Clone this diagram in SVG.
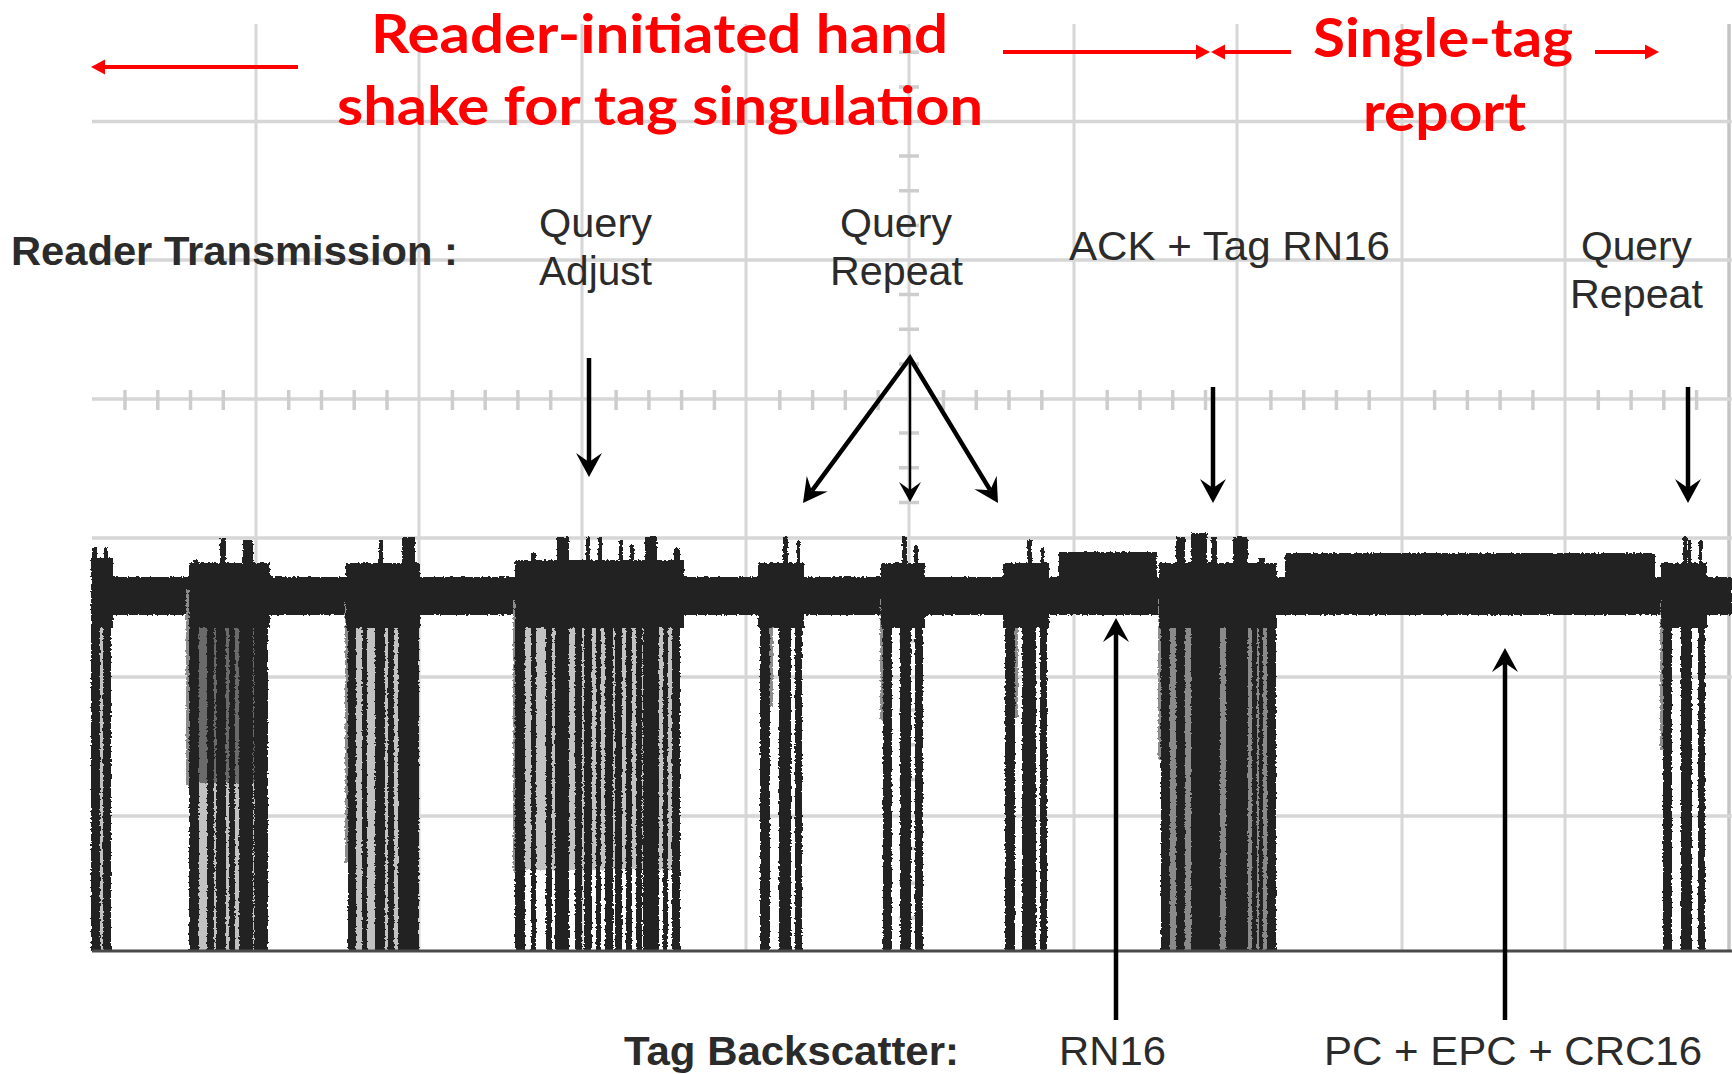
<svg xmlns="http://www.w3.org/2000/svg" width="1732" height="1074" viewBox="0 0 1732 1074">
  <defs>
    <style>
      .grid{stroke:#d6d6d6;stroke-width:3;fill:none}
      .gridh{stroke:#d6d6d6;stroke-width:3.5;fill:none}
      .tick{stroke:#cdcdcd;stroke-width:3.5;fill:none}
      .sig{fill:#242424}
      .gap{fill:#6a6a6a}
      .gapl{fill:#c2c2c2}
      .ghost{fill:#8c8c8c}
      .lbl{font-family:"Liberation Sans",Arial,sans-serif;font-size:41px;fill:#2b2b2b}
      .bold{font-weight:bold}
      .note{font-family:Lato,"Open Sans",sans-serif;font-weight:bold;font-size:53px;fill:#ff0000}
      .ptr{stroke:#000;stroke-width:4.5;fill:none;stroke-linejoin:miter}
      .ptr-thin{stroke:#000;stroke-width:2.5;fill:none}
      .span{stroke:#ff0000;stroke-width:4;fill:none}
    </style>
    <!-- slight edge roughness of a sampled scope trace -->
    <filter id="rough" x="-2%" y="-2%" width="104%" height="104%">
      <feTurbulence type="fractalNoise" baseFrequency="0.45" numOctaves="1" seed="3" result="n"/>
      <feDisplacementMap in="SourceGraphic" in2="n" scale="4" xChannelSelector="R" yChannelSelector="G"/>
    </filter>
    <marker id="head" markerUnits="userSpaceOnUse" viewBox="0 -14 26 28" markerWidth="26" markerHeight="28" refX="9" refY="0" orient="auto-start-reverse">
      <path d="M24,0 L0,-13 L9,0 L0,13 Z" fill="#000"/>
    </marker>
    <marker id="head-sm" markerUnits="userSpaceOnUse" viewBox="0 -12 22 24" markerWidth="22" markerHeight="24" refX="8" refY="0" orient="auto">
      <path d="M20,0 L0,-11 L8,0 L0,11 Z" fill="#000"/>
    </marker>
    <marker id="red-head" markerUnits="userSpaceOnUse" viewBox="0 -8 15 16" markerWidth="15" markerHeight="16" refX="2" refY="0" orient="auto">
      <path d="M14,0 L0,-7.5 L0,7.5 Z" fill="#ff0000"/>
    </marker>
  </defs>

  <rect width="1732" height="1074" fill="#ffffff"/>

  <!-- scope graticule -->
  <g id="grid">
    <path class="grid" d="M256,24V951 M419,24V951 M582,24V951 M746,24V951 M909,24V951 M1074,24V951 M1237,24V951 M1402,24V951 M1565,24V951"/>
    <path d="M1729,24V951" stroke="#c4c4c4" stroke-width="3.5"/>
    <path class="gridh" d="M92,121.5H1732 M92,260H1732 M92,399H1732 M92,538H1732 M92,677H1732 M92,816H1732"/>
    <!-- minor divisions on the centre axes -->
    <path class="tick" d="M125,390V410 M157.8,390V410 M190.5,390V410 M223.3,390V410 M288.7,390V410 M321.5,390V410 M354.2,390V410 M387,390V410 M452.4,390V410 M485.2,390V410 M517.9,390V410 M550.7,390V410 M616.1,390V410 M648.9,390V410 M681.6,390V410 M714.4,390V410 M779.8,390V410 M812.6,390V410 M845.3,390V410 M878.1,390V410 M943.5,390V410 M976.3,390V410 M1009,390V410 M1041.8,390V410 M1107.2,390V410 M1140,390V410 M1172.7,390V410 M1205.5,390V410 M1270.9,390V410 M1303.7,390V410 M1336.4,390V410 M1369.2,390V410 M1434.6,390V410 M1467.4,390V410 M1500.1,390V410 M1532.9,390V410 M1598.3,390V410 M1631.1,390V410 M1663.8,390V410 M1696.6,390V410"/>
    <path class="tick" d="M899,52.3H919 M899,86.9H919 M899,156.1H919 M899,190.8H919 M899,225.4H919 M899,294.6H919 M899,329.3H919 M899,363.9H919 M899,433.1H919 M899,467.8H919 M899,502.4H919 M899,571.6H919 M899,606.3H919 M899,640.9H919 M899,710.1H919 M899,744.8H919 M899,779.4H919 M899,848.6H919 M899,883.3H919 M899,917.9H919"/>
  </g>

  <!-- captured waveform -->
  <g id="trace">
    <g filter="url(#rough)">
    <!-- continuous carrier -->
    <rect class="sig" x="91" y="577" width="1641" height="38"/>

    <!-- burst at trace start -->
    <g id="burst-0">
      <rect class="gapl" x="100" y="628" width="3" height="323"/>
      <rect class="sig" x="91" y="558" width="22" height="70"/>
      <rect class="sig" x="92" y="547" width="5" height="15"/>
      <rect class="sig" x="104" y="548" width="4" height="15"/>
      <rect class="sig" x="91" y="563" width="9" height="388"/>
      <rect class="sig" x="103" y="563" width="8" height="388"/>
    </g>

    <g id="burst-1">
      <rect class="ghost" x="186" y="590" width="3" height="195"/>
      <rect class="gap" x="199" y="628" width="69" height="155"/>
      <rect class="gapl" x="199" y="783" width="69" height="168"/>
      <rect class="sig" x="189" y="563" width="81" height="65"/>
      <rect class="sig" x="193" y="560" width="6" height="5"/>
      <rect class="sig" x="220" y="538" width="6" height="27"/>
      <rect class="sig" x="243" y="540" width="10" height="25"/>
      <rect class="sig" x="189" y="563" width="10" height="388"/>
      <rect class="sig" x="207" y="563" width="7" height="388"/>
      <rect class="sig" x="216" y="563" width="10" height="388"/>
      <rect class="sig" x="229" y="563" width="6" height="388"/>
      <rect class="sig" x="239" y="563" width="14" height="388"/>
      <rect class="sig" x="254" y="563" width="14" height="388"/>
    </g>

    <g id="burst-2">
      <rect class="ghost" x="345" y="600" width="3" height="263"/>
      <rect class="gapl" x="356" y="628" width="42" height="323"/>
      <rect class="sig" x="346" y="563" width="74" height="65"/>
      <rect class="sig" x="352" y="565" width="4" height="3"/>
      <rect class="sig" x="379" y="540" width="4" height="25"/>
      <rect class="sig" x="402" y="537" width="13" height="28"/>
      <rect class="sig" x="348" y="563" width="8" height="388"/>
      <rect class="sig" x="362" y="563" width="5" height="388"/>
      <rect class="sig" x="375" y="563" width="10" height="388"/>
      <rect class="sig" x="388" y="563" width="6" height="388"/>
      <rect class="sig" x="398" y="563" width="21" height="388"/>
    </g>

    <g id="burst-3">
      <rect class="ghost" x="513" y="600" width="3" height="273"/>
      <rect class="gapl" x="525" y="628" width="155" height="242"/>
      <rect class="sig" x="515" y="560" width="169" height="68"/>
      <rect class="sig" x="531" y="553" width="5" height="10"/>
      <rect class="sig" x="557" y="537" width="12" height="26"/>
      <rect class="sig" x="586" y="537" width="4" height="26"/>
      <rect class="sig" x="598" y="537" width="4" height="26"/>
      <rect class="sig" x="619" y="540" width="4" height="23"/>
      <rect class="sig" x="630" y="545" width="4" height="18"/>
      <rect class="sig" x="645" y="537" width="12" height="26"/>
      <rect class="sig" x="674" y="548" width="6" height="15"/>
      <rect class="sig" x="515" y="563" width="10" height="388"/>
      <rect class="sig" x="531" y="563" width="5" height="388"/>
      <rect class="sig" x="546" y="563" width="6" height="388"/>
      <rect class="sig" x="555" y="563" width="14" height="388"/>
      <rect class="sig" x="575" y="563" width="7" height="388"/>
      <rect class="sig" x="584" y="563" width="8" height="388"/>
      <rect class="sig" x="596" y="563" width="5" height="388"/>
      <rect class="sig" x="605" y="563" width="8" height="388"/>
      <rect class="sig" x="615" y="563" width="7" height="388"/>
      <rect class="sig" x="626" y="563" width="6" height="388"/>
      <rect class="sig" x="636" y="563" width="6" height="388"/>
      <rect class="sig" x="643" y="563" width="16" height="388"/>
      <rect class="sig" x="663" y="563" width="5" height="388"/>
      <rect class="sig" x="672" y="563" width="8" height="388"/>
    </g>

    <g id="burst-4">
      <rect class="ghost" x="770" y="600" width="3" height="107"/>
      <rect class="sig" x="758" y="563" width="46" height="65"/>
      <rect class="sig" x="764" y="565" width="3" height="3"/>
      <rect class="sig" x="783" y="537" width="5" height="28"/>
      <rect class="sig" x="797" y="540" width="3" height="25"/>
      <rect class="sig" x="760" y="563" width="10" height="388"/>
      <rect class="sig" x="779" y="563" width="12" height="388"/>
      <rect class="sig" x="795" y="563" width="7" height="388"/>
    </g>

    <g id="burst-5">
      <rect class="ghost" x="880" y="600" width="3" height="120"/>
      <rect class="sig" x="881" y="563" width="44" height="65"/>
      <rect class="sig" x="886" y="566" width="3" height="3"/>
      <rect class="sig" x="902" y="537" width="5" height="28"/>
      <rect class="sig" x="914" y="545" width="4" height="20"/>
      <rect class="sig" x="883" y="563" width="9" height="388"/>
      <rect class="sig" x="900" y="563" width="11" height="388"/>
      <rect class="sig" x="915" y="563" width="8" height="388"/>
    </g>

    <g id="burst-6">
      <rect class="ghost" x="1015" y="600" width="3" height="117"/>
      <rect class="sig" x="1003" y="563" width="46" height="65"/>
      <rect class="sig" x="1027" y="540" width="5" height="25"/>
      <rect class="sig" x="1041" y="548" width="3" height="17"/>
      <rect class="sig" x="1005" y="563" width="10" height="388"/>
      <rect class="sig" x="1022" y="563" width="14" height="388"/>
      <rect class="sig" x="1040" y="563" width="7" height="388"/>
    </g>

    <!-- tag reply: RN16 -->
    <rect id="rn16-reply" class="sig" x="1059" y="552" width="98" height="63"/>

    <g id="burst-7">
      <rect class="ghost" x="1158" y="600" width="3" height="160"/>
      <rect fill="#8a8a8a" x="1170" y="628" width="97" height="323"/>
      <rect class="sig" x="1159" y="563" width="118" height="65"/>
      <rect class="sig" x="1176" y="537" width="9" height="28"/>
      <rect class="sig" x="1191" y="533" width="16" height="32"/>
      <rect class="sig" x="1211" y="537" width="6" height="28"/>
      <rect class="sig" x="1233" y="537" width="15" height="28"/>
      <rect class="sig" x="1259" y="558" width="6" height="7"/>
      <rect class="sig" x="1161" y="563" width="9" height="388"/>
      <rect class="sig" x="1176" y="563" width="9" height="388"/>
      <rect class="sig" x="1191" y="563" width="29" height="388"/>
      <rect class="sig" x="1226" y="563" width="22" height="388"/>
      <rect class="sig" x="1252" y="563" width="5" height="388"/>
      <rect class="sig" x="1259" y="563" width="4" height="388"/>
      <rect class="sig" x="1267" y="563" width="9" height="388"/>
    </g>

    <!-- tag reply: PC + EPC + CRC16 -->
    <rect id="epc-reply" class="sig" x="1285" y="553" width="370" height="62"/>

    <g id="burst-8">
      <rect class="ghost" x="1660" y="600" width="3" height="150"/>
      <rect class="sig" x="1661" y="563" width="46" height="65"/>
      <rect class="sig" x="1666" y="565" width="3" height="3"/>
      <rect class="sig" x="1683" y="537" width="4" height="28"/>
      <rect class="sig" x="1688" y="540" width="3" height="25"/>
      <rect class="sig" x="1699" y="540" width="3" height="25"/>
      <rect class="sig" x="1663" y="563" width="9" height="388"/>
      <rect class="sig" x="1681" y="563" width="11" height="388"/>
      <rect class="sig" x="1698" y="563" width="7" height="388"/>
    </g>
    </g>

    <!-- zero level -->
    <path d="M92,951H1732" stroke="#4a4a4a" stroke-width="3"/>
  </g>

  <!-- labels -->
  <g id="reader-label"><text class="lbl bold" x="11" y="265" textLength="447" lengthAdjust="spacingAndGlyphs">Reader Transmission :</text></g>
  <g id="query-adjust">
    <text class="lbl" x="539" y="237" textLength="113" lengthAdjust="spacingAndGlyphs">Query</text>
    <text class="lbl" x="539" y="285" textLength="113" lengthAdjust="spacingAndGlyphs">Adjust</text>
  </g>
  <g id="query-repeat-1">
    <text class="lbl" x="840" y="237" textLength="112" lengthAdjust="spacingAndGlyphs">Query</text>
    <text class="lbl" x="830" y="285" textLength="133" lengthAdjust="spacingAndGlyphs">Repeat</text>
  </g>
  <g id="ack-label"><text class="lbl" x="1069" y="260" textLength="321" lengthAdjust="spacingAndGlyphs">ACK + Tag RN16</text></g>
  <g id="query-repeat-2">
    <text class="lbl" x="1581" y="260" textLength="111" lengthAdjust="spacingAndGlyphs">Query</text>
    <text class="lbl" x="1570" y="308" textLength="133" lengthAdjust="spacingAndGlyphs">Repeat</text>
  </g>
  <g id="tag-label"><text class="lbl bold" x="624" y="1065" textLength="335" lengthAdjust="spacingAndGlyphs">Tag Backscatter:</text></g>
  <g id="rn16-label"><text class="lbl" x="1059" y="1065" textLength="107" lengthAdjust="spacingAndGlyphs">RN16</text></g>
  <g id="epc-label"><text class="lbl" x="1324" y="1065" textLength="378" lengthAdjust="spacingAndGlyphs">PC + EPC + CRC16</text></g>

  <!-- pointers from labels to the waveform -->
  <g id="connectors">
    <path class="ptr" d="M589,358V462" marker-end="url(#head)"/>
    <path class="ptr" d="M811.9,490.9 L910,358 L990.2,490.2" marker-start="url(#head)" marker-end="url(#head)"/>
    <path class="ptr-thin" d="M910,360V490" marker-end="url(#head-sm)"/>
    <path class="ptr" d="M1213,387V488" marker-end="url(#head)"/>
    <path class="ptr" d="M1688,387V488" marker-end="url(#head)"/>
    <path class="ptr" d="M1116,1020V633" marker-end="url(#head)"/>
    <path class="ptr" d="M1505,1020V663" marker-end="url(#head)"/>
  </g>

  <!-- protocol phase annotations -->
  <g id="phase-handshake">
    <path class="span" d="M298,67H103" marker-end="url(#red-head)"/>
    <text class="note" x="371" y="53" textLength="577" lengthAdjust="spacingAndGlyphs">Reader-initiated hand</text>
    <text class="note" x="337" y="125" textLength="646" lengthAdjust="spacingAndGlyphs">shake for tag singulation</text>
    <path class="span" d="M1003,52H1198" marker-end="url(#red-head)"/>
  </g>
  <g id="phase-report">
    <path class="span" d="M1291,52H1223" marker-end="url(#red-head)"/>
    <text class="note" x="1313" y="57" textLength="260" lengthAdjust="spacingAndGlyphs">Single-tag</text>
    <text class="note" x="1363" y="131" textLength="163" lengthAdjust="spacingAndGlyphs">report</text>
    <path class="span" d="M1595,52H1647" marker-end="url(#red-head)"/>
  </g>
</svg>
